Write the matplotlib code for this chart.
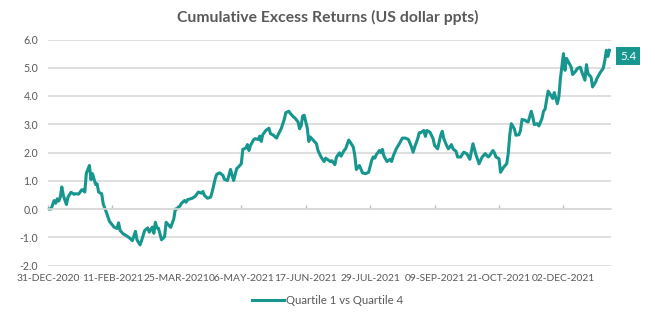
import numpy as np
import matplotlib
matplotlib.use("Agg")
import matplotlib.pyplot as plt
import matplotlib.dates as mdates
from matplotlib.ticker import FuncFormatter

# chart data
start_date = np.datetime64("2020-12-31")

# days after 31-Dec-2020
day_offsets = [
    0, 2, 4, 5, 6, 7, 8, 9, 10, 12, 13, 15, 17, 18, 20, 22, 23, 24, 25, 27,
    28, 29, 31, 32, 33, 35, 36, 38, 40, 43, 45, 46, 47, 49, 51, 53, 55, 57, 58, 60,
    61, 63, 65, 66, 68, 69, 70, 71, 72, 74, 76, 77, 79, 80, 82, 83, 84, 86, 87, 89,
    90, 91, 94, 96, 98, 100, 101, 102, 104, 106, 107, 109, 110, 112, 114, 115, 117, 119, 120, 121,
    123, 124, 126, 127, 129, 130, 131, 132, 134, 135, 137, 138, 139, 140, 142, 144, 145, 147, 149, 150,
    152, 154, 155, 157, 158, 160, 161, 163, 164, 165, 166, 167, 169, 170, 171, 173, 175, 176, 178, 180,
    181, 183, 184, 185, 187, 188, 190, 191, 193, 194, 196, 197, 199, 200, 201, 203, 205, 207, 209, 211,
    212, 213, 214, 216, 217, 218, 219, 221, 223, 224, 225, 227, 229, 231, 233, 235, 237, 238, 239, 241,
    242, 243, 245, 246, 247, 249, 251, 252, 254, 255, 256, 257, 258, 260, 261, 263, 264, 266, 267, 269,
    271, 273, 275, 277, 279, 281, 283, 285, 287, 288, 290, 291, 292, 294, 295, 297, 299, 300, 301, 302,
    304, 305, 307, 308, 309, 311, 312, 313, 315, 316, 317, 319, 320, 322, 323, 324, 325, 326, 327, 329,
    330, 332, 333, 334, 336, 337, 338, 339, 341, 342, 344, 345, 347, 348, 350, 351, 352, 354, 355, 357,
    358, 360, 362, 363, 364, 365, 366,
]

excess_returns = [
    0.00, 0.00, 0.30, 0.20, 0.36, 0.28, 0.42, 0.78, 0.48, 0.16, 0.42, 0.59, 0.52, 0.54, 0.53, 0.68, 0.68, 0.60, 1.27, 1.54,
    1.04, 1.25, 0.87, 0.89, 0.60, 0.54, 0.18, -0.11, -0.43, -0.64, -0.69, -0.49, -0.76, -0.88, -0.94, -1.02, -1.12, -0.79, -1.09, -1.27,
    -1.12, -0.76, -0.67, -0.82, -0.64, -0.86, -0.47, -0.67, -0.68, -1.09, -0.98, -0.47, -0.59, -0.65, -0.35, 0.00, 0.00, 0.11, 0.20, 0.30,
    0.24, 0.33, 0.38, 0.45, 0.60, 0.56, 0.62, 0.48, 0.38, 0.42, 0.60, 1.07, 1.23, 1.28, 1.19, 1.05, 1.01, 1.40, 1.19, 1.01,
    1.43, 1.48, 1.60, 2.11, 2.16, 2.28, 2.07, 2.25, 2.45, 2.49, 2.46, 2.58, 2.39, 2.63, 2.78, 2.86, 2.67, 2.61, 2.51, 2.63,
    2.84, 3.17, 3.41, 3.46, 3.38, 3.26, 3.22, 3.08, 2.84, 2.94, 3.29, 3.32, 2.87, 2.39, 2.55, 2.43, 2.31, 2.07, 1.84, 1.68,
    1.80, 1.72, 1.68, 1.71, 1.57, 1.83, 1.99, 1.87, 2.07, 2.13, 2.44, 2.37, 2.19, 1.90, 1.40, 1.54, 1.28, 1.25, 1.30, 1.72,
    1.84, 1.80, 1.92, 2.07, 1.99, 2.11, 1.87, 1.68, 1.76, 1.68, 1.87, 2.13, 2.31, 2.51, 2.51, 2.46, 2.19, 2.01, 2.19, 2.49,
    2.70, 2.70, 2.78, 2.57, 2.78, 2.72, 2.49, 2.25, 2.13, 2.37, 2.61, 2.75, 2.49, 2.23, 2.13, 2.28, 2.13, 2.04, 1.84, 1.84,
    2.01, 1.96, 1.76, 2.31, 1.92, 1.60, 1.84, 1.96, 1.84, 1.90, 2.07, 1.99, 1.84, 1.78, 1.30, 1.48, 1.60, 1.96, 2.61, 3.02,
    2.84, 2.61, 2.63, 2.78, 3.17, 3.14, 3.10, 3.08, 3.46, 3.26, 2.99, 3.02, 2.94, 3.20, 3.46, 3.53, 3.85, 4.17, 4.09, 3.91,
    4.12, 3.73, 3.96, 4.61, 5.50, 4.91, 5.33, 5.23, 5.03, 4.76, 4.88, 4.97, 5.02, 4.85, 4.56, 5.11, 4.79, 4.67, 4.32, 4.50,
    4.64, 4.83, 4.99, 5.27, 5.62, 5.40, 5.62,
]

tick_offsets = [0, 42, 84, 126, 168, 210, 252, 294, 336]
y_ticks = [-2, -1, 0, 1, 2, 3, 4, 5, 6]
series_name = "Quartile 1 vs Quartile 4"
last_label = "5.4"
last_label_value = 5.4
chart_title = "Cumulative Excess Returns (US dollar ppts)"

teal = "#16968e"
grey_text = "#595959"
grid_grey = "#d9d9d9"

plt.rcParams["font.family"] = ["Lato", "DejaVu Sans"]
plt.rcParams["axes.unicode_minus"] = False

dates = start_date + np.array(day_offsets).astype("timedelta64[D]")
tick_dates = start_date + np.array(tick_offsets).astype("timedelta64[D]")

fig = plt.figure(figsize=(6.55, 3.23), dpi=100)
ax = fig.add_axes([48 / 655, 1 - 265.5 / 323, (611 - 48) / 655, (265.5 - 39.5) / 323])

ax.plot(dates, excess_returns, color=teal, lw=2.2, label=series_name,
        solid_joinstyle="round")

ax.set_ylim(-2, 6)
ax.set_xlim(start_date, start_date + np.timedelta64(367, "D"))
ax.set_yticks(y_ticks)
ax.yaxis.set_major_formatter(FuncFormatter(lambda v, p: f"{v:.1f}"))
ax.grid(axis="y", color=grid_grey, lw=1.2)
ax.set_axisbelow(True)

for side in ["left", "right", "top"]:
    ax.spines[side].set_visible(False)
# horizontal axis crosses at zero, labels stay at the bottom
ax.spines["bottom"].set_position(("data", 0))
ax.spines["bottom"].set_color(grid_grey)
ax.spines["bottom"].set_linewidth(1.2)

ax.set_xticks(tick_dates)
ax.xaxis.set_major_formatter(
    FuncFormatter(lambda v, p: mdates.num2date(v).strftime("%d-%b-%Y").upper()))
ax.tick_params(axis="x", direction="in", length=3, width=1, color="#bfbfbf",
               pad=46.5, labelsize=7.4, labelcolor=grey_text)
ax.tick_params(axis="y", length=0, pad=7, labelsize=7.6, labelcolor=grey_text)

# value box at the end of the line
ax.annotate(last_label, xy=(dates[-1], last_label_value), xytext=(7.5, 0),
            textcoords="offset points", ha="left", va="center", color="white",
            fontsize=8.3, annotation_clip=False,
            bbox=dict(boxstyle="square,pad=0.3", fc=teal, ec="none"))

fig.text(0.5, 1 - 17 / 323, chart_title, ha="center", va="center",
         fontsize=11.3, fontweight="bold", color=grey_text)

fig.legend(loc="center", bbox_to_anchor=(0.5, 1 - 300 / 323), frameon=False,
           fontsize=8.2, handlelength=2.8, handletextpad=0.2, labelcolor=grey_text)

fig.savefig("out.png", dpi=100)
